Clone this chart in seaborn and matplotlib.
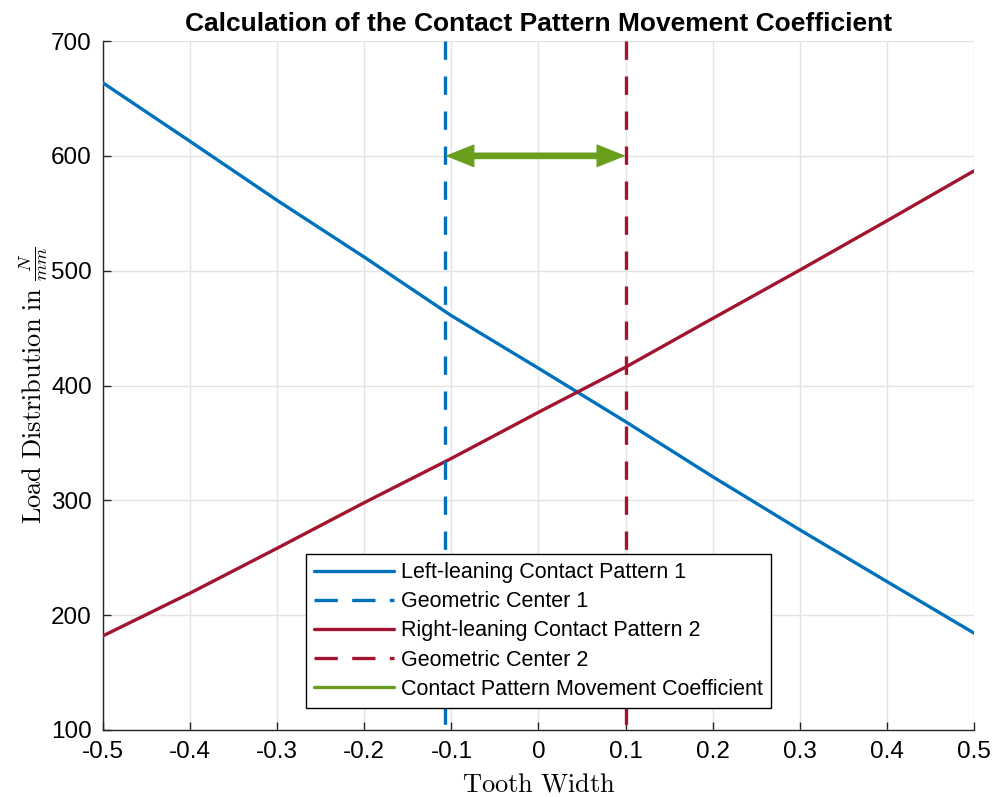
import matplotlib
matplotlib.use('Agg')
import matplotlib.pyplot as plt
import seaborn as sns
import pandas as pd
from matplotlib.lines import Line2D

# ---------------- data ----------------
tooth_width = [-0.5, -0.4, -0.3, -0.2, -0.1, 0.0, 0.1, 0.2, 0.3, 0.4, 0.5]
load_left = [663.5, 612.6, 561.2, 511.8, 460.8, 415.0, 368.5, 320.6, 274.3, 229.3, 184.4]
load_right = [182.0, 219.2, 258.3, 298.0, 336.5, 376.7, 416.0, 458.4, 500.5, 543.4, 586.9]
center_1 = -0.107
center_2 = 0.100
arrow_level = 600

x_ticks = [-0.5, -0.4, -0.3, -0.2, -0.1, 0.0, 0.1, 0.2, 0.3, 0.4, 0.5]
x_tick_labels = ['-0.5', '-0.4', '-0.3', '-0.2', '-0.1', '0', '0.1', '0.2', '0.3', '0.4', '0.5']
y_ticks = [100, 200, 300, 400, 500, 600, 700]
y_tick_labels = ['100', '200', '300', '400', '500', '600', '700']

legend_labels = ['Left-leaning Contact Pattern 1', 'Geometric Center 1',
                 'Right-leaning Contact Pattern 2', 'Geometric Center 2',
                 'Contact Pattern Movement Coefficient']
title = 'Calculation of the Contact Pattern Movement Coefficient'
x_label = r'$\mathrm{Tooth\ Width}$'
y_label = r'$\mathrm{Load\ Distribution\ in}\ \frac{N}{mm}$'

# ---------------- style ----------------
sns.set_theme(style='whitegrid')
plt.rcParams['font.family'] = ['Liberation Sans', 'DejaVu Sans']
plt.rcParams['mathtext.fontset'] = 'cm'
plt.rcParams['axes.unicode_minus'] = False

BLUE = '#0072BD'
RED = '#A2142F'
GREEN = '#6a9f1e'
AXC = '#262626'
LW = 2.4
DASH = (0, (5.5, 5))

fig = plt.figure(figsize=(10.03, 7.97), dpi=100)
fig.patch.set_facecolor('white')
ax = fig.add_axes([103 / 1003, 1 - 730 / 797, 871 / 1003, 689 / 797])
ax.set_facecolor('white')

df = pd.DataFrame({
    'Tooth Width': tooth_width + tooth_width,
    'Load': load_left + load_right,
    'Pattern': [legend_labels[0]] * len(tooth_width) + [legend_labels[2]] * len(tooth_width),
})
sns.lineplot(data=df, x='Tooth Width', y='Load', hue='Pattern',
             palette={legend_labels[0]: BLUE, legend_labels[2]: RED},
             linewidth=LW, ax=ax, legend=False, zorder=3)

ax.set_xlim(x_ticks[0], x_ticks[-1])
ax.set_ylim(y_ticks[0], y_ticks[-1])

# geometric centres (drawn top -> bottom like the reference)
ax.plot([center_1, center_1], [y_ticks[-1], y_ticks[0]], color=BLUE, lw=LW, ls=DASH, zorder=3)
ax.plot([center_2, center_2], [y_ticks[-1], y_ticks[0]], color=RED, lw=LW, ls=DASH, zorder=3)

# double arrow: shaft + two filled heads
ax.annotate('', xy=(center_2, arrow_level), xytext=(center_1, arrow_level),
            arrowprops=dict(arrowstyle='-', color=GREEN, lw=4.8, shrinkA=14, shrinkB=14),
            zorder=4)
mid = (center_1 + center_2) / 2
for tip in (center_1, center_2):
    ax.annotate('', xy=(tip, arrow_level), xytext=(mid, arrow_level),
                arrowprops=dict(arrowstyle='-|>,head_length=1.95,head_width=0.78',
                                mutation_scale=10, color=GREEN, lw=0.8,
                                shrinkA=0, shrinkB=0),
                zorder=4)

# axes styling
ax.grid(True, color='#e3e3e3', lw=1)
ax.set_axisbelow(True)
for s in ('top', 'right'):
    ax.spines[s].set_visible(False)
for s in ('left', 'bottom'):
    ax.spines[s].set_color(AXC)
    ax.spines[s].set_linewidth(1.0)

ax.set_xticks(x_ticks)
ax.set_xticklabels(x_tick_labels)
ax.set_yticks(y_ticks)
ax.set_yticklabels(y_tick_labels)
ax.tick_params(axis='both', direction='in', length=6, width=1, color=AXC,
               labelsize=17.5, labelcolor='black', left=True, bottom=True)
ax.tick_params(axis='x', pad=8)
ax.tick_params(axis='y', pad=8)

ax.set_title(title, fontsize=19, fontweight='bold', pad=7, color='black')
ax.set_xlabel(x_label, fontsize=19, color='black')
ax.set_ylabel(y_label, fontsize=19, color='black')
ax.xaxis.set_label_coords(0.5, -0.062)
ax.yaxis.set_label_coords(-0.061, 0.5)

handles = [
    Line2D([], [], color=BLUE, lw=LW),
    Line2D([], [], color=BLUE, lw=LW, ls=(0, (7, 4.3))),
    Line2D([], [], color=RED, lw=LW),
    Line2D([], [], color=RED, lw=LW, ls=(0, (7, 4.3))),
    Line2D([], [], color=GREEN, lw=LW),
]
leg = ax.legend(handles, legend_labels, loc='lower center',
                bbox_to_anchor=(0.5, 22 / 689), borderaxespad=0,
                fontsize=15.5, frameon=True, fancybox=False, edgecolor='black',
                framealpha=1, handlelength=3.7, handletextpad=0.35,
                labelspacing=0.38, borderpad=0.38)
leg.get_frame().set_linewidth(1.0)
for t in leg.get_texts():
    t.set_color('black')

fig.savefig('out.png', dpi=100, facecolor='white')
